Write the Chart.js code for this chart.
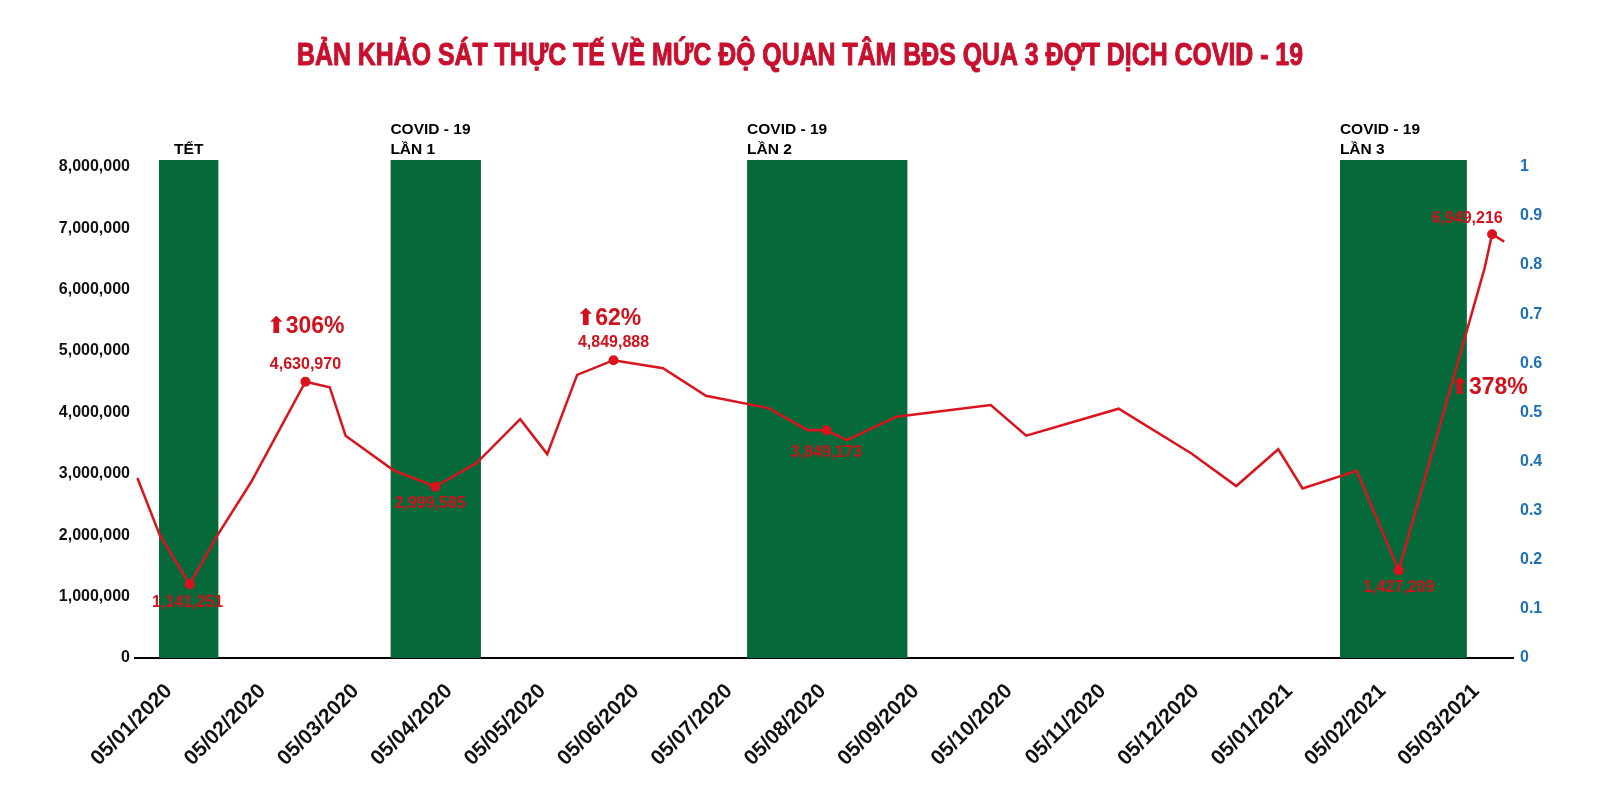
<!DOCTYPE html>
<html>
<head>
<meta charset="utf-8">
<script src="https://cdn.jsdelivr.net/npm/chart.js@4.4.1/dist/chart.umd.min.js"></script>
<style>
html,body{margin:0;padding:0;background:#fff;}
#wrap{width:1600px;height:802px;position:relative;}
</style>
</head>
<body>
<div id="wrap"><canvas id="c"></canvas></div>
<script>
// ---------------- DATA ----------------
const TITLE = 'BẢN KHẢO SÁT THỰC TẾ VỀ MỨC ĐỘ QUAN TÂM BĐS QUA 3 ĐỢT DỊCH COVID - 19';

const monthLabels = ['05/01/2020','05/02/2020','05/03/2020','05/04/2020','05/05/2020','05/06/2020',
  '05/07/2020','05/08/2020','05/09/2020','05/10/2020','05/11/2020','05/12/2020',
  '05/01/2021','05/02/2021','05/03/2021'];

// position of each observation, in months after 05/01/2020
const pointMonths = [-0.21, 0.03, 0.35, 0.64, 1.01, 1.59, 1.85, 2.02, 2.53, 2.98,
  3.42, 3.89, 4.18, 4.50, 4.89, 5.42, 5.88, 6.55, 6.97, 7.17,
  7.39, 7.92, 8.93, 9.31, 10.30, 11.08, 11.56, 12.01, 12.27, 12.85,
  13.30, 14.22, 14.30, 14.43];

const pointValues = [2930000, 2000000, 1200000, 1980000, 2870000, 4500000, 4410000, 3620000, 3060000, 2790000,
  3170000, 3890000, 3320000, 4610000, 4849888, 4720000, 4270000, 4070000, 3710000, 3710000,
  3550000, 3930000, 4120000, 3620000, 4060000, 3330000, 2800000, 3400000, 2760000, 3050000,
  1427209, 6350000, 6900000, 6780000];

const markerIndices = [2, 5, 9, 14, 19, 30, 32];
const markerTexts = ['1,141,251', '4,630,970', '2,999,585', '4,849,888', '3,849,173', '1,427,209', '6,949,216'];

const growthTexts = ['306%', '62%', '378%'];

const bandNames = [['TẾT'], ['COVID - 19', 'LẦN 1'], ['COVID - 19', 'LẦN 2'], ['COVID - 19', 'LẦN 3']];
const bandStarts = [0.02, 2.50, 6.32, 12.67];
const bandEnds   = [0.66, 3.47, 8.04, 14.03];
const bandTop = 8110000;

const leftTicks = [0, 1000000, 2000000, 3000000, 4000000, 5000000, 6000000, 7000000, 8000000];
const rightTicks = [0, 0.1, 0.2, 0.3, 0.4, 0.5, 0.6, 0.7, 0.8, 0.9, 1];

// ---------------- STYLE / LAYOUT ----------------
const RED_LINE = '#d9141e';
const RED_TEXT = '#d1121c';
const RED_TITLE = '#c8102e';
const GREEN = '#06693a';
const BLUE = '#1f6fb6';
const FONT = '"Liberation Sans", "DejaVu Sans", sans-serif';

const X_MIN = -0.2356, X_MAX = 14.524;
const Y_MAX = bandTop, Y2_MAX = bandTop / 8000000;

// label offsets relative to the marker they describe (pixels)
const markerLabelOffsets = [[-2, 18], [0, -17], [-5, 17], [0, -18], [0, 22], [0, 17], [-25, -16]];
// growth labels: anchor = pair of point indices (midpoint), offset, alignment
const growthAnchors = [[5, 5], [14, 14], [30, 31]];
const growthOffsets = [[0, -55], [-5, -42], [8, -32]];
const growthAlign = ['center', 'center', 'left'];
const bandLabelAlign = ['center', 'left', 'left', 'left'];

const lineData = pointMonths.map((m, i) => ({x: m, y: pointValues[i]}));
const radii = pointValues.map((_, i) => markerIndices.includes(i) ? 5 : 0);

const datasets = [{
  type: 'line',
  label: 'Mức độ quan tâm',
  data: lineData,
  yAxisID: 'y',
  borderColor: RED_LINE,
  borderWidth: 2.5,
  pointRadius: radii,
  pointBackgroundColor: RED_LINE,
  pointBorderColor: RED_LINE,
  pointBorderWidth: 0,
  pointHoverRadius: radii,
  tension: 0,
  fill: false,
  order: 0,
  clip: false
}];
bandStarts.forEach((s, i) => {
  datasets.push({
    type: 'line',
    label: bandNames[i].join(' '),
    data: [{x: s, y: bandTop}, {x: bandEnds[i], y: bandTop}],
    yAxisID: 'y',
    borderColor: 'rgba(0,0,0,0)',
    borderWidth: 0,
    backgroundColor: GREEN,
    fill: 'origin',
    pointRadius: 0,
    pointHoverRadius: 0,
    order: 1
  });
});

const annotPlugin = {
  id: 'annot',
  afterDraw(chart) {
    const ctx = chart.ctx;
    const area = chart.chartArea;
    const meta = chart.getDatasetMeta(0);
    ctx.save();

    // Title (condensed look)
    ctx.font = 'bold 32px ' + FONT;
    ctx.fillStyle = RED_TITLE;
    ctx.strokeStyle = RED_TITLE;
    ctx.lineWidth = 1;
    ctx.lineJoin = 'round';
    ctx.textAlign = 'center';
    ctx.textBaseline = 'alphabetic';
    const tw = ctx.measureText(TITLE).width;
    ctx.save();
    ctx.translate(chart.width / 2, 65);
    ctx.scale(1006 / tw, 1);
    ctx.fillText(TITLE, 0, 0);
    ctx.strokeText(TITLE, 0, 0);
    ctx.restore();

    // Band labels
    ctx.font = 'bold 15.5px ' + FONT;
    ctx.fillStyle = '#000';
    ctx.textBaseline = 'alphabetic';
    bandNames.forEach((lines, i) => {
      const bm = chart.getDatasetMeta(i + 1);
      const x0 = bm.data[0].x, x1 = bm.data[1].x;
      const align = bandLabelAlign[i];
      ctx.textAlign = align;
      const x = align === 'center' ? (x0 + x1) / 2 : x0;
      const n = lines.length;
      lines.forEach((t, j) => {
        ctx.fillText(t, x, area.top - 6 - (n - 1 - j) * 20);
      });
    });

    // Marker value labels
    ctx.font = 'bold 16px ' + FONT;
    ctx.fillStyle = RED_TEXT;
    ctx.textAlign = 'center';
    ctx.textBaseline = 'middle';
    markerIndices.forEach((idx, k) => {
      const p = meta.data[idx];
      const o = markerLabelOffsets[k];
      ctx.fillText(markerTexts[k], p.x + o[0], p.y + o[1]);
    });

    // Growth labels
    ctx.font = 'bold 23px ' + FONT;
    growthTexts.forEach((t, k) => {
      const a = meta.data[growthAnchors[k][0]], b = meta.data[growthAnchors[k][1]];
      const ax = (a.x + b.x) / 2 + growthOffsets[k][0];
      const ay = (a.y + b.y) / 2 + growthOffsets[k][1];
      const s = '⬆' + t;
      ctx.textAlign = growthAlign[k];
      ctx.fillText(s, ax, ay);
    });

    ctx.restore();
  }
};

new Chart(document.getElementById('c'), {
  data: {datasets},
  options: {
    responsive: true,
    maintainAspectRatio: false,
    animation: false,
    events: [],
    layout: {padding: {top: 160, left: 0, right: 0, bottom: 0}},
    plugins: {legend: {display: false}, title: {display: false}, tooltip: {enabled: false}},
    scales: {
      x: {
        type: 'linear', position: 'bottom', min: X_MIN, max: X_MAX,
        grid: {display: false, drawTicks: false},
        border: {display: true, color: '#000', width: 2},
        afterBuildTicks: s => { s.ticks = monthLabels.map((_, i) => ({value: i})); },
        ticks: {
          autoSkip: false, minRotation: 45, maxRotation: 45, padding: 21, labelOffset: 12, color: '#111',
          font: {family: FONT, weight: 'bold', size: 21},
          callback: v => monthLabels[v] !== undefined ? monthLabels[v] : ''
        },
        afterFit: s => { s.height = 144; }
      },
      y: {
        type: 'linear', position: 'left', min: 0, max: Y_MAX,
        grid: {display: false, drawTicks: false},
        border: {display: false},
        afterBuildTicks: s => { s.ticks = leftTicks.map(v => ({value: v})); },
        ticks: {
          padding: 5, color: '#111',
          font: {family: FONT, weight: 'bold', size: 16},
          callback: v => Number(v).toLocaleString('en-US')
        },
        afterFit: s => { s.width = 135; }
      },
      y2: {
        type: 'linear', position: 'right', min: 0, max: Y2_MAX,
        grid: {display: false, drawTicks: false},
        border: {display: false},
        afterBuildTicks: s => { s.ticks = rightTicks.map(v => ({value: v})); },
        ticks: {
          padding: 7, color: BLUE,
          font: {family: FONT, weight: 'bold', size: 16},
          callback: v => String(v)
        },
        afterFit: s => { s.width = 87; }
      }
    }
  },
  plugins: [annotPlugin]
});
</script>
</body>
</html>
